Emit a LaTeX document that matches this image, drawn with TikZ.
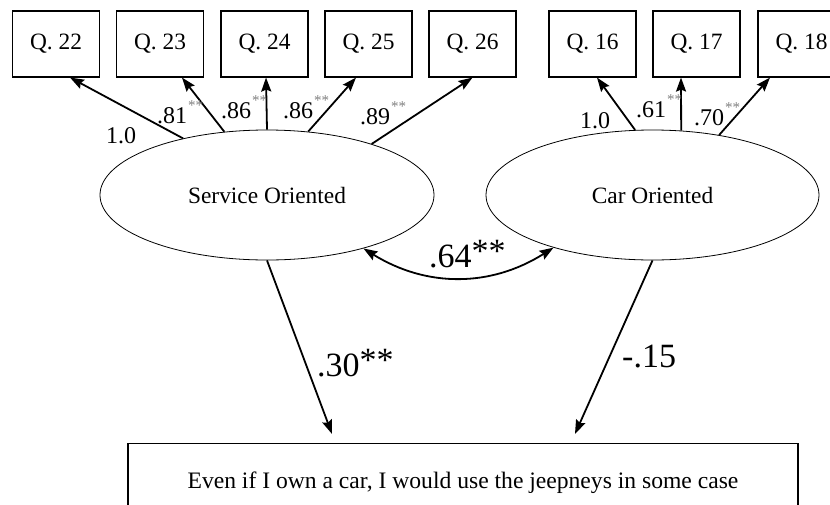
\documentclass[tikz,border=0pt]{standalone}
\usepackage{fontspec}
\setmainfont{Liberation Serif}
\usetikzlibrary{arrows.meta,calc,shapes.geometric}
% small grey significance stars on the loadings
\newcommand{\sigmark}{\kern1pt\raisebox{13pt}{\fontsize{15}{15}\selectfont\textcolor{gray}{**}}}
% full-size raised stars on the structural coefficients
\newcommand{\bigsig}{\raisebox{5pt}{**}}
\begin{document}
\begin{tikzpicture}[x=1pt,y=-1pt,
  item/.style={draw, line width=1.1pt, minimum width=87pt, minimum height=66pt,
    inner sep=0pt, font=\fontsize{23.4}{28}\selectfont},
  latent/.style={draw, ellipse, line width=0.8pt, inner sep=0pt,
    minimum height=130pt, font=\fontsize{23.4}{28}\selectfont},
  effect/.style={line width=1.8pt, -{Stealth[length=14pt,width=10pt,inset=2pt]}},
  load/.style={anchor=base west, inner sep=0pt, font=\fontsize{24}{28}\selectfont},
  coef/.style={anchor=base west, inner sep=0pt, font=\fontsize{34}{40}\selectfont}]
\clip (0,0) rectangle (830,504);
\useasboundingbox (0,0) rectangle (830,504);

% observed items
\node[item] (q22) at (56,44) {Q. 22};
\node[item] (q23) at (160,44) {Q. 23};
\node[item] (q24) at (264.5,44) {Q. 24};
\node[item] (q25) at (368.5,44) {Q. 25};
\node[item] (q26) at (472.5,44) {Q. 26};
\node[item] (q16) at (592.5,44) {Q. 16};
\node[item] (q17) at (696.5,44) {Q. 17};
\node[item] (q18) at (801.5,44) {Q. 18};

% latent factors
\node[latent, minimum width=334pt] (so) at (267,195) {Service Oriented};
\node[latent, minimum width=333pt] (co) at (652.5,195) {Car Oriented};

% outcome
\node[draw, line width=1.1pt, minimum width=670pt, minimum height=78pt, inner sep=0pt,
  font=\fontsize{23.6}{28}\selectfont] (out) at (463,482.5)
  {Even if I own a car, I would use the jeepneys in some case};

% loadings, service oriented
\draw[effect] (so.146.8) -- ($(q22.south)+(14,0)$);
\draw[effect] (so.124.9) -- ($(q23.south)+(22,0)$);
\draw[effect] (so.north) -- ($(q24.south)+(1.5,0)$);
\draw[effect] (so.57) -- ($(q25.south)+(-12.5,0)$);
\draw[effect] (so.26.8) -- (q26.south);

% loadings, car oriented
\draw[effect] (co.105.1) -- ($(q16.south)+(4.5,0)$);
\draw[effect] (co.66.3) -- ($(q17.south)+(-15.5,0)$);
\draw[effect] (co.42.5) -- ($(q18.south)+(-31.5,0)$);

\node[load] (l22) at (106,143) {1.0};
\node[load] (l23) at (157,123) {.81\sigmark};
\node[load] (l24) at (221,118) {.86\sigmark};
\node[load] (l25) at (283,118) {.86\sigmark};
\node[load] (l26) at (360,124) {.89\sigmark};
\node[load] (l16) at (580,128) {1.0};
\node[load] (l17) at (636,117) {.61\sigmark};
\node[load] (l18) at (694,125) {.70\sigmark};

% factor correlation
\draw[line width=1.8pt, {Stealth[length=14pt,width=10pt,inset=2pt]}-{Stealth[length=14pt,width=10pt,inset=2pt]}]
  (so.-29) to[bend right=32] (co.208.2);
\node[coef] (r) at (429,267) {.64\bigsig};

% structural paths
\draw[effect] (so.south) -- ($(out.north)+(-131,-9)$);
\draw[effect] (co.south) -- ($(out.north)+(112,-9)$);
\node[coef] (b1) at (317,376) {.30\bigsig};
\node[coef] (b2) at (622,367) {-.15};
\end{tikzpicture}
\end{document}
